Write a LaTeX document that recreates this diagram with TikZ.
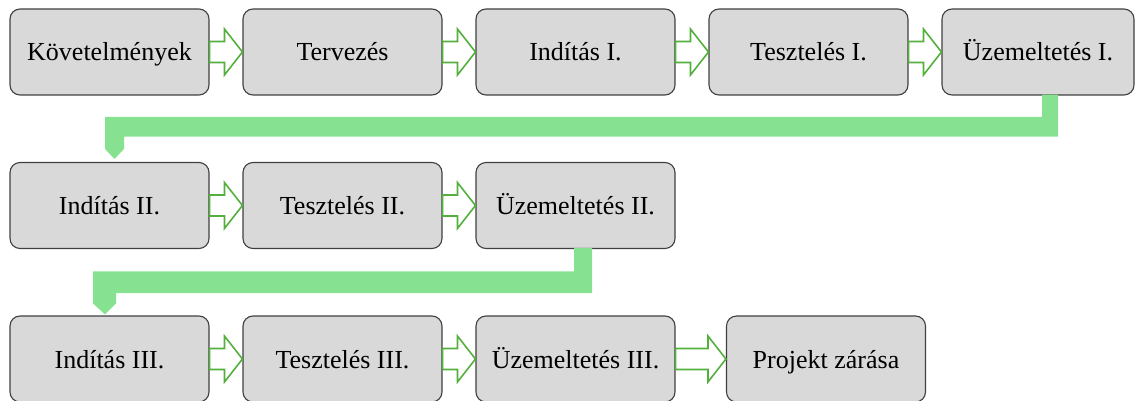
\documentclass[tikz,border=0pt]{standalone}
\usepackage{fontspec}
\setmainfont{Liberation Serif}
\usetikzlibrary{calc}
\definecolor{boxgray}{RGB}{217,217,217}
\definecolor{boxedge}{RGB}{64,64,64}
\definecolor{flowgreen}{RGB}{84,176,60}
\definecolor{bendgreen}{RGB}{134,226,145}
\tikzset{
  stage/.style={rectangle, rounded corners=10pt, fill=boxgray, draw=boxedge,
    line width=1.1pt, minimum width=199pt, minimum height=86pt, inner sep=0pt,
    text height=18pt, text depth=0pt,
    font=\fontsize{26}{30}\selectfont},
  flow/.style={draw=flowgreen, fill=white, line width=1.6pt, line join=miter},
  rowturn/.style={fill=bendgreen}
}
% hollow block arrow from the east side of #1 to the west side of #2
\newcommand{\flowarrow}[2]{%
  \draw[flow] ($(#1.east)+(0,-10.5)$) -- ($(#2.west)+(-18,-10.5)$)
    -- ($(#2.west)+(-18,-23)$) -- (#2.west) -- ($(#2.west)+(-18,23)$)
    -- ($(#2.west)+(-18,10.5)$) -- ($(#1.east)+(0,10.5)$) -- cycle;}
\begin{document}
\begin{tikzpicture}[x=1pt,y=-1pt]
\useasboundingbox (0,0) rectangle (1135,401);
% first row
\node[stage] (kov) at (109.5,52) {Követelmények};
\node[stage] (terv) at (342.5,52) {Tervezés};
\node[stage] (ind1) at (575.5,52) {Indítás I.};
\node[stage] (teszt1) at (808.5,52) {Tesztelés I.};
\node[stage, minimum width=192pt] (uz1) at (1038,52) {Üzemeltetés I.};
% second row
\node[stage] (ind2) at (109.5,205.5) {Indítás II.};
\node[stage] (teszt2) at (342.5,205.5) {Tesztelés II.};
\node[stage] (uz2) at (575.5,205.5) {Üzemeltetés II.};
% third row
\node[stage] (ind3) at (109.5,359) {Indítás III.};
\node[stage] (teszt3) at (342.5,359) {Tesztelés III.};
\node[stage] (uz3) at (575.5,359) {Üzemeltetés III.};
\node[stage] (zar) at (826,359) {Projekt zárása};
% arrows within the rows
\flowarrow{kov}{terv}
\flowarrow{terv}{ind1}
\flowarrow{ind1}{teszt1}
\flowarrow{teszt1}{uz1}
\flowarrow{ind2}{teszt2}
\flowarrow{teszt2}{uz2}
\flowarrow{ind3}{teszt3}
\flowarrow{teszt3}{uz3}
\flowarrow{uz3}{zar}
% bent arrows carrying the flow to the next row
\fill[rowturn] ($(uz1.south)+(4,-1)$) |- ($(ind2.north)+(-4.5,-45)$)
  -- ($(ind2.north)+(-4.5,-13)$) -- ($(ind2.north)+(5,-3)$)
  -- ($(ind2.north)+(14.5,-13)$) |- ($(uz1.south)+(20,41)$)
  -- ($(uz1.south)+(20,-1)$) -- cycle;
\fill[rowturn] ($(uz2.south)+(-1.5,-1)$) |- ($(ind3.north)+(-16.5,-44)$)
  -- ($(ind3.north)+(-16.5,-12)$) -- ($(ind3.north)+(-4.5,-1)$)
  -- ($(ind3.north)+(6.5,-12)$) |- ($(uz2.south)+(16.5,44)$)
  -- ($(uz2.south)+(16.5,-1)$) -- cycle;
\end{tikzpicture}
\end{document}
